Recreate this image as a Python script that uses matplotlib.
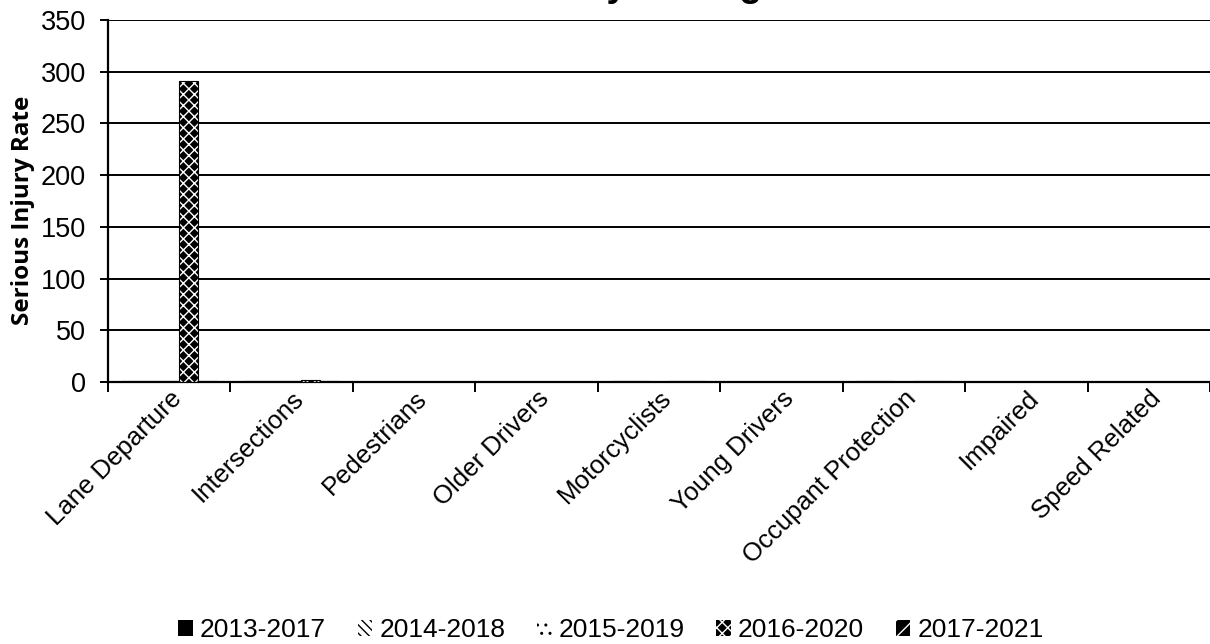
import matplotlib
matplotlib.use("Agg")
import matplotlib.pyplot as plt
from matplotlib.patches import Patch
import numpy as np

categories = ["Lane Departure", "Intersections", "Pedestrians", "Older Drivers",
              "Motorcyclists", "Young Drivers", "Occupant Protection", "Impaired",
              "Speed Related"]
periods = ["2013-2017", "2014-2018", "2015-2019", "2016-2020", "2017-2021"]

rate_2013_2017 = [1.3, 1.2, 0.3, 0.2, 0.5, 0.2, 0.5, 0.3, 0.2]
rate_2014_2018 = [1.2, 1.3, 0.3, 0.2, 0.5, 0.2, 0.5, 0.3, 0.2]
rate_2015_2019 = [1.2, 1.2, 0.3, 0.2, 0.4, 0.2, 0.4, 0.3, 0.2]
rate_2016_2020 = [291, 2.0, 0.4, 0.3, 0.6, 0.3, 0.6, 0.4, 0.3]
rate_2017_2021 = [1.4, 1.4, 0.3, 0.2, 0.5, 0.2, 0.5, 0.3, 0.2]

title_text = "County Average"
y_label = "Serious Injury Rate"

series = [rate_2013_2017, rate_2014_2018, rate_2015_2019, rate_2016_2020, rate_2017_2021]
styles = [
    dict(facecolor="black", edgecolor="black", hatch=None, hlw=1.6),
    dict(facecolor="white", edgecolor="black", hatch="\\\\\\\\", hlw=1.6),
    dict(facecolor="white", edgecolor="black", hatch="..", hlw=1.6),
    dict(facecolor="black", edgecolor="white", hatch="xxx", hlw=1.0),
    dict(facecolor="black", edgecolor="white", hatch="//", hlw=1.2),
]

plt.rcParams["font.family"] = ["Liberation Sans", "DejaVu Sans"]

fig = plt.figure(figsize=(12.10, 6.44), dpi=100)
ax = fig.add_axes([108 / 1210, 1 - 382 / 644, 1 - 108 / 1210, (382 - 20) / 644])

x = np.arange(len(categories))
w = 0.155
for i, (vals, st) in enumerate(zip(series, styles)):
    pos = x + (i - 2) * w
    with plt.rc_context({"hatch.linewidth": st["hlw"]}):
        ax.bar(pos, vals, width=w, facecolor=st["facecolor"], edgecolor=st["edgecolor"],
               hatch=st["hatch"], linewidth=0.0, zorder=3)
    ax.bar(pos, vals, width=w, facecolor="none", edgecolor="black", linewidth=0.8, zorder=4)

ax.set_xlim(-0.5, len(categories) - 0.5)
ax.set_ylim(0, 350)
ax.set_yticks(np.arange(0, 351, 50))
ax.yaxis.grid(True, color="black", linewidth=1.4, zorder=0)
ax.set_axisbelow(True)

ax.set_xticks(x)
ax.set_xticklabels(categories, rotation=45, ha="right", rotation_mode="anchor", fontsize=18.5)
ax.tick_params(axis="x", length=0, pad=3)
ax.set_xticks(np.arange(-0.5, len(categories) + 0.5, 1), minor=True)
ax.tick_params(axis="x", which="minor", length=7, width=1.4, direction="out", color="black")
ax.tick_params(axis="y", length=6, width=1.4, labelsize=19.5, pad=10)

for side in ["top", "right"]:
    ax.spines[side].set_visible(False)
for side in ["left", "bottom"]:
    ax.spines[side].set_linewidth(1.6)
    ax.spines[side].set_color("black")

ax.set_ylabel(y_label, fontsize=17.5, fontweight="bold", family=["Open Sans", "DejaVu Sans"])
ax.yaxis.set_label_coords((35 - 108) / 1102, (382 - 210) / 362)

fig.text(640 / 1210, 1 + 4 / 644, title_text, ha="center", va="baseline",
         fontsize=27, fontweight="bold")

handles = []
for st in styles:
    with plt.rc_context({"hatch.linewidth": st["hlw"]}):
        handles.append(Patch(facecolor=st["facecolor"],
                             edgecolor=st["edgecolor"] if st["hatch"] else "black",
                             hatch=st["hatch"], linewidth=0))
fig.legend(handles, periods, loc="center", bbox_to_anchor=(611 / 1210, 1 - 630 / 644),
           ncol=5, frameon=False, fontsize=19, handlelength=0.55, handleheight=0.55,
           handletextpad=0.27, columnspacing=1.2)

fig.savefig("out.png", dpi=100)
